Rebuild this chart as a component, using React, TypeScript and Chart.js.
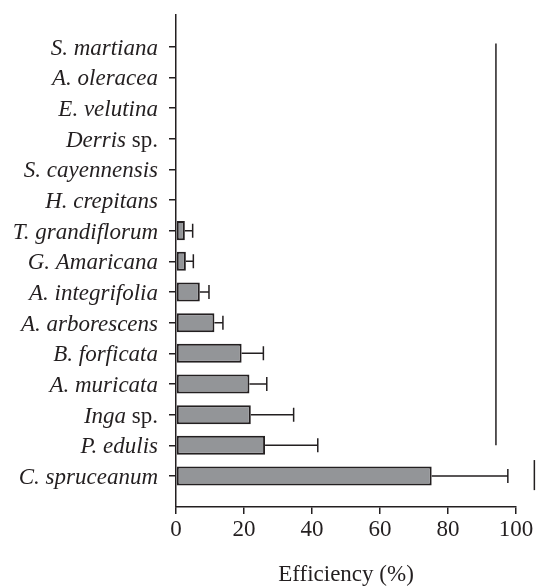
import React, { useEffect, useRef } from "react";
import { Chart, registerables } from "chart.js";

Chart.register(...registerables);

const categories = [
  "S. martiana",
  "A. oleracea",
  "E. velutina",
  "Derris sp.",
  "S. cayennensis",
  "H. crepitans",
  "T. grandiflorum",
  "G. Amaricana",
  "A. integrifolia",
  "A. arborescens",
  "B. forficata",
  "A. muricata",
  "Inga sp.",
  "P. edulis",
  "C. spruceanum",
];
const efficiency = [0, 0, 0, 0, 0, 0, 2.6, 2.9, 7.0, 11.3, 19.3, 21.6, 22.0, 26.2, 75.2];
const errorUpper = [0, 0, 0, 0, 0, 0, 2.3, 2.2, 2.7, 2.5, 6.4, 5.1, 12.6, 15.5, 22.4];
const xTicks = [0, 20, 40, 60, 80, 100];
const groupLines = [
  { value: 94.1, from: -0.1, to: 13 },
  { value: 105.4, from: 13.48, to: 14.46 },
];

const FONT = '"Liberation Serif", "Times New Roman", serif';
const INK = "#231f20";

const overlayPlugin = {
  id: "overlay",
  afterDatasetsDraw(chart: any) {
    const { ctx, scales } = chart;
    const xs = scales.x;
    const ys = scales.y;
    ctx.save();
    ctx.strokeStyle = INK;
    ctx.lineWidth = 1.5;
    efficiency.forEach((v, i) => {
      const e = errorUpper[i];
      if (!e) return;
      const y = ys.getPixelForValue(i);
      const x0 = xs.getPixelForValue(v);
      const x1 = xs.getPixelForValue(v + e);
      ctx.beginPath();
      ctx.moveTo(x0, y);
      ctx.lineTo(x1, y);
      ctx.moveTo(x1, y - 7);
      ctx.lineTo(x1, y + 7);
      ctx.stroke();
    });
    groupLines.forEach((g) => {
      const x = xs.getPixelForValue(g.value);
      ctx.beginPath();
      ctx.moveTo(x, ys.getPixelForValue(g.from));
      ctx.lineTo(x, ys.getPixelForValue(g.to));
      ctx.stroke();
    });
    ctx.restore();
  },
  afterDraw(chart: any) {
    const { ctx, scales } = chart;
    const ys = scales.y;
    const right = ys.right - 7 - 11;
    ctx.save();
    ctx.fillStyle = INK;
    ctx.textBaseline = "alphabetic";
    ctx.textAlign = "left";
    categories.forEach((label, i) => {
      const y = ys.getPixelForValue(i) + 8;
      let italicPart = label;
      let plainPart = "";
      if (label.endsWith(" sp.")) {
        italicPart = label.slice(0, -4);
        plainPart = " sp.";
      }
      ctx.font = `italic 23px ${FONT}`;
      const w1 = ctx.measureText(italicPart).width;
      ctx.font = `23px ${FONT}`;
      const w2 = plainPart ? ctx.measureText(plainPart).width : 0;
      const start = right - w1 - w2;
      ctx.font = `italic 23px ${FONT}`;
      ctx.fillText(italicPart, start, y);
      if (plainPart) {
        ctx.font = `23px ${FONT}`;
        ctx.fillText(plainPart, start + w1, y);
      }
    });
    ctx.restore();
  },
};

export default function App() {
  const ref = useRef<HTMLCanvasElement | null>(null);

  useEffect(() => {
    if (!ref.current) return;
    const chart = new Chart(ref.current, {
      type: "bar",
      data: {
        datasets: [
          {
            data: efficiency.map((v, i) => ({ x: v, y: i })),
            backgroundColor: "#939598",
            borderColor: INK,
            borderWidth: 2,
            borderSkipped: false,
            barPercentage: 0.62,
            categoryPercentage: 1,
          },
        ],
      },
      options: {
        indexAxis: "y",
        animation: false,
        responsive: false,
        layout: { padding: { top: 15, right: 21, left: 0, bottom: 0 } },
        plugins: { legend: { display: false }, tooltip: { enabled: false } },
        scales: {
          x: {
            type: "linear",
            position: "bottom",
            min: 0,
            max: 100,
            offset: false,
            afterBuildTicks: (s: any) => {
              s.ticks = xTicks.map((v) => ({ value: v }));
            },
            afterFit: (s: any) => {
              s.height = 79;
            },
            ticks: {
              color: INK,
              font: { family: FONT, size: 23 },
              padding: 2,
              maxRotation: 0,
            },
            grid: { drawOnChartArea: false, offset: false, tickLength: 7, color: INK, lineWidth: 1.5 },
            border: { color: INK, width: 1.5 },
            title: {
              display: true,
              text: "Efficiency (%)",
              color: INK,
              font: { family: FONT, size: 23, lineHeight: 1 },
              padding: { top: 0, bottom: 0 },
            },
          },
          y: {
            type: "linear",
            reverse: true,
            min: -1.03,
            max: 15.01,
            offset: false,
            afterBuildTicks: (s: any) => {
              s.ticks = categories.map((_, i) => ({ value: i }));
            },
            afterFit: (s: any) => {
              s.width = 176;
            },
            ticks: {
              display: false,
            },
            grid: { drawOnChartArea: false, offset: false, tickLength: 7, color: INK, lineWidth: 1.5 },
            border: { color: INK, width: 1.5 },
          },
        },
      },
      plugins: [overlayPlugin],
    } as any);
    return () => chart.destroy();
  }, []);

  return (
    <div style={{ position: "absolute", left: 0, top: 0, width: 537, height: 586, background: "#fff" }}>
      <canvas ref={ref} width={537} height={586} style={{ display: "block" }} />
    </div>
  );
}
